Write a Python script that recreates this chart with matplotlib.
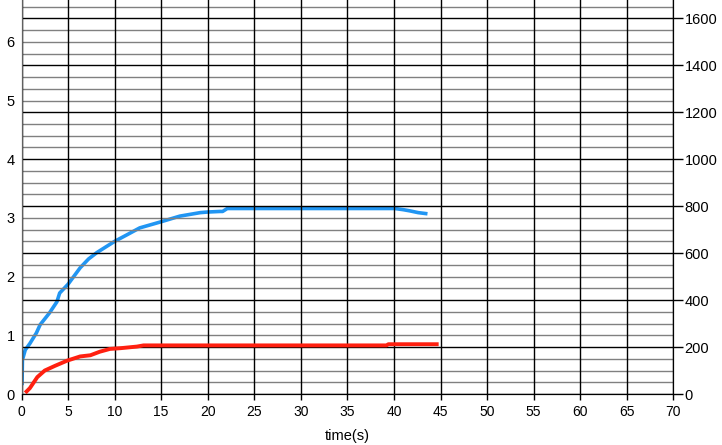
import matplotlib.pyplot as plt
import numpy as np

plt.rcParams["font.family"] = ["Liberation Sans", "DejaVu Sans"]

# blue curve (left axis)
blue_t = [0.05, 0.1, 0.4, 0.9, 1.6, 2.0, 3.0, 3.8, 4.1, 5.0, 6.3, 7.2, 8.1, 9.0,
          10.0, 11.3, 12.7, 14.9, 17.0, 19.2, 20.0, 21.3, 21.6, 22.1, 25.0, 30.0,
          35.0, 40.1, 41.0, 41.7, 42.6, 43.6]
blue_v = [0.15, 0.58, 0.75, 0.86, 1.04, 1.18, 1.38, 1.57, 1.72, 1.87, 2.15, 2.30,
          2.41, 2.50, 2.60, 2.71, 2.83, 2.93, 3.03, 3.09, 3.10, 3.11, 3.11, 3.16,
          3.16, 3.16, 3.16, 3.16, 3.14, 3.12, 3.09, 3.07]

# red curve (right axis)
red_t = [0.4, 0.9, 1.7, 2.5, 3.6, 4.9, 6.3, 7.4, 8.4, 9.5, 10.6, 12.4, 13.1,
         20.0, 30.0, 39.2, 39.4, 44.8]
red_v = [5, 25, 72, 100, 120, 142, 160, 165, 180, 192, 195, 202, 207,
         207, 207, 207, 212, 212]

x_ticks = np.arange(0, 71, 5)
left_ticks = np.arange(0, 7, 1)
right_ticks = np.arange(0, 1601, 200)

fig = plt.figure(figsize=(7.22, 4.45), dpi=100)
ax1 = fig.add_axes([21.5 / 722, 51 / 445, (673.3 - 21.5) / 722, 394 / 445])
ax2 = ax1.twinx()

ymax_left = 394 / 58.7
ax1.set_xlim(0, 70)
ax1.set_ylim(0, ymax_left)
ax2.set_ylim(0, ymax_left * 250)

# grid drawn on the right axis scale
for v in np.arange(50, ymax_left * 250, 50):
    if v % 200 == 0:
        continue
    ax2.axhline(v, color="#808080", lw=1.0, zorder=0)
for v in right_ticks:
    ax2.axhline(v, color="black", lw=1.0, zorder=0.5)
for t in x_ticks:
    ax2.axvline(t, color="black", lw=1.0, zorder=0.5)

ax1.plot(blue_t, blue_v, color="#2196f3", lw=2.6, solid_capstyle="butt", zorder=3)
ax2.plot(red_t, red_v, color="#ff2010", lw=2.8, solid_capstyle="butt", zorder=3)

ax1.set_xticks(x_ticks)
ax1.set_yticks(left_ticks)
ax2.set_yticks(right_ticks)
ax1.tick_params(axis="x", length=4, width=1, pad=4, labelsize=10)
ax1.tick_params(axis="y", length=0, pad=5, labelsize=10.5)
ax2.tick_params(axis="y", length=7, width=1, pad=1, labelsize=10.5)

ax1.set_xlabel("time(s)", fontsize=10.5, labelpad=7)

for ax in (ax1, ax2):
    ax.spines["top"].set_visible(False)
    ax.spines["left"].set_color("#606060")
    ax.spines["bottom"].set_color("black")
    ax.spines["right"].set_color("black")
ax2.set_zorder(ax1.get_zorder() + 1)
ax2.patch.set_visible(False)

fig.savefig("out.png", dpi=100)
